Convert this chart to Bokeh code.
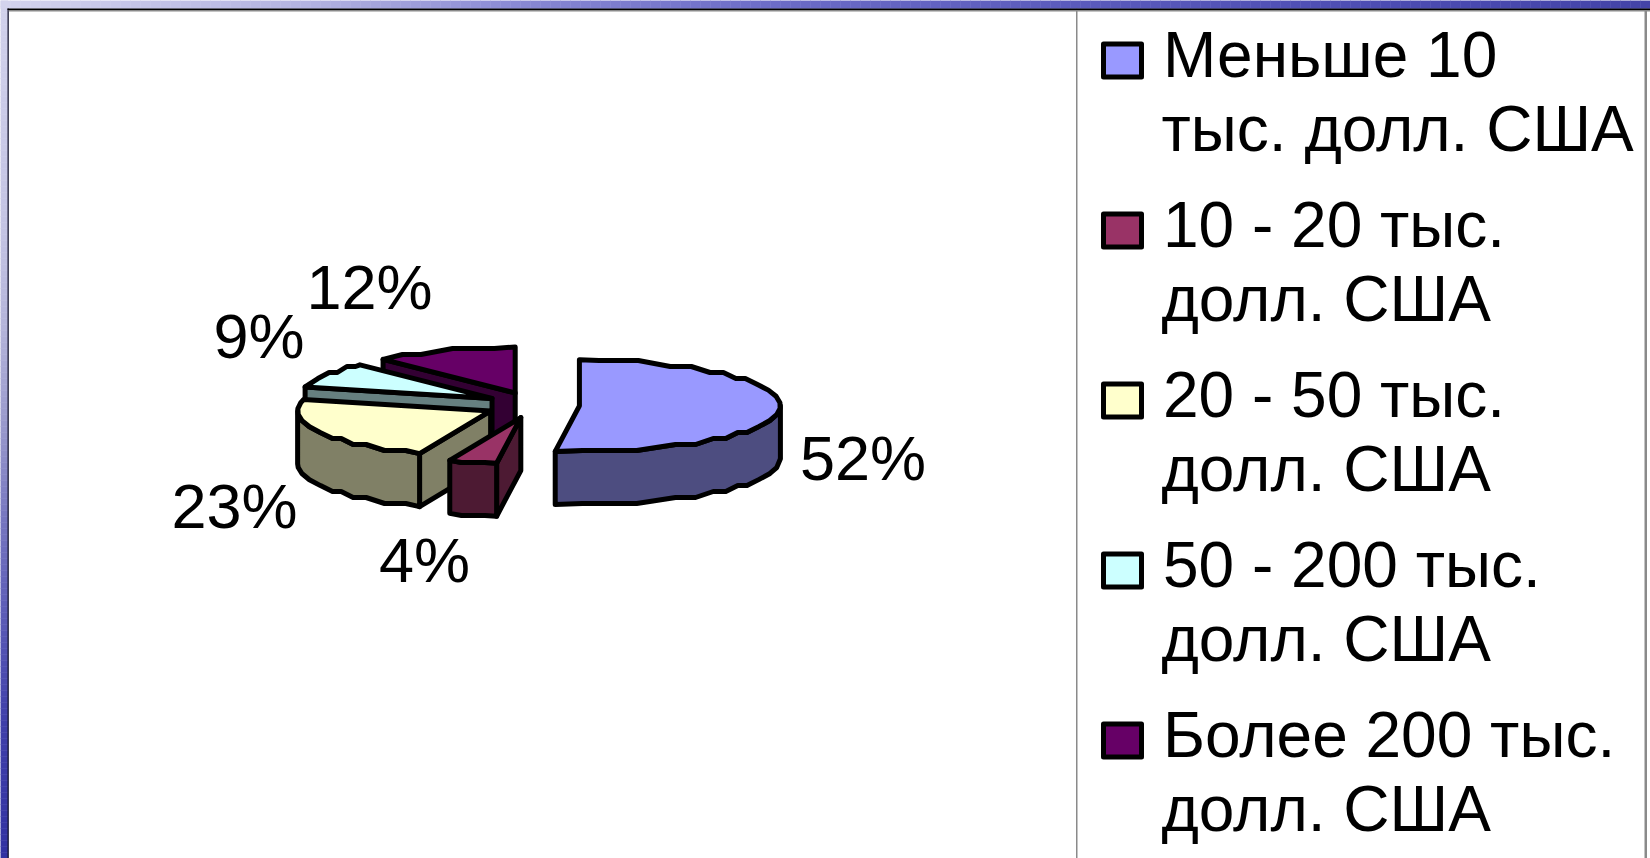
import math
import numpy as np
from bokeh.core.properties import value
from bokeh.embed import file_html
from bokeh.models import Range1d
from bokeh.plotting import figure
from bokeh.resources import INLINE

# ---- data ----
categories = ["Меньше 10 тыс. долл. США", "10 - 20 тыс. долл. США", "20 - 50 тыс. долл. США",
              "50 - 200 тыс. долл. США", "Более 200 тыс. долл. США"]
legend_lines = [["Меньше 10", "тыс. долл. США"], ["10 - 20 тыс.", "долл. США"], ["20 - 50 тыс.", "долл. США"],
                ["50 - 200 тыс.", "долл. США"], ["Более 200 тыс.", "долл. США"]]
shares = [52, 4, 23, 9, 12]
top_colors = ["#9999FF", "#993366", "#FFFFCC", "#CCFFFF", "#660066"]
side_colors = ["#4D4D80", "#4D1A33", "#808066", "#668080", "#330033"]

# ---- layout (pixels on the page) ----
W, H = 1650, 858
CX, CY = 532, 404.5
EX, EY = 47, 13
RX_RIGHT, RX_LEFT, RY = 201, 193, 46
DEPTH = 53
STEP_Y = 6
MIN_FLAT = 14
LINE = 5
TEXT_SHIFT = 0.375       # em between the requested and the drawn baseline
PCT_PX, LEG_PX = 63, 64
label_xy = [(862.5, 481), (424, 583), (234, 529), (258.5, 359), (369, 310)]
FONT = value("Liberation Sans")

p = figure(width=W, height=H, x_range=Range1d(0, W), y_range=Range1d(H, 0),
           toolbar_location=None, output_backend="svg", min_border=0,
           background_fill_color="white", border_fill_color="white", outline_line_color=None)
p.axis.visible = False
p.grid.visible = False


# ---- slide background round the chart ----
def bands(stops, colors, lo, hi, step):
    edges = np.arange(lo, hi + step, step)
    rgb = np.array([[int(c[i:i + 2], 16) for i in (1, 3, 5)] for c in colors])
    mids = (edges[:-1] + edges[1:]) / 2
    cols = ["#%02x%02x%02x" % tuple(int(np.interp(m, stops, rgb[:, k])) for k in range(3)) for m in mids]
    return edges[:-1], edges[1:], cols


s0, s1, sc = bands([0, 230, 330, 430, 520, 620, 720, 858],
                   ["#d2d2ec", "#c4c4e4", "#b4b4da", "#9898cc", "#7676c0", "#5a5ab6", "#4040aa", "#3232a2"], 0, H, 6)
p.quad(left=0, right=7.5, bottom=s1, top=s0, fill_color=sc, line_color=sc, line_width=0.5)
s0, s1, sc = bands([0, 300, 550, 800, 1100, 1400, 1650],
                   ["#d4d4ee", "#b4b4e2", "#8484d2", "#6a6ac6", "#5a5abc", "#4c4cb2", "#4444a8"], 0, W, 10)
p.quad(left=s0, right=s1, bottom=8, top=0, fill_color=sc, line_color=sc, line_width=0.5)
# frame of the chart and of its legend
p.quad(left=[7, 1075.5, 1644], right=[8.3, 1077, 1646.5], top=[8, 8, 8], bottom=[H, H, H],
       fill_color=["#15152e", "#8a8a8a", "#8a8a8a"], line_color=None)
p.quad(left=[7, 8.3], right=[W, W], top=[8, 9.4], bottom=[9.4, 11], fill_color=["black", "#8a8a8a"], line_color=None)


def arc(cx, cy, a, b):
    """Elliptical arc a..b (degrees clockwise from 12 o'clock), with the coarse stepped outline of the picture."""
    n = max(2, int(abs(b - a) * 2))
    pts = []
    for i in range(n + 1):
        t = math.radians(a + (b - a) * i / n)
        s = math.sin(t)
        pts.append((cx + (RX_RIGHT if s > 0 else RX_LEFT) * s, cy - RY * math.cos(t)))
    out = [pts[0]]
    i = 0
    while i < len(pts):
        q = round(pts[i][1] / STEP_Y)
        j = i
        while j + 1 < len(pts) and round(pts[j + 1][1] / STEP_Y) == q:
            j += 1
        if abs(pts[j][0] - pts[i][0]) >= MIN_FLAT:
            for f in (0.25, 0.75):
                out.append((pts[i][0] + (pts[j][0] - pts[i][0]) * f, q * STEP_Y))
        elif i > 0 and j < len(pts) - 1:
            out.append(pts[(i + j) // 2])
        i = j + 1
    out.append(pts[-1])
    return out


def poly(points, color):
    p.patch([q[0] for q in points], [q[1] for q in points], fill_color=color, line_color="black",
            line_width=LINE, line_join="round")


angle = 0
slices = []
for i, s in enumerate(shares):
    a, b = angle, angle + s * 3.6
    mid = math.radians((a + b) / 2)
    cx, cy = CX + EX * math.sin(mid), CY - EY * math.cos(mid)
    slices.append((i, a, b, cx, cy))
    angle = b

for i, a, b, cx, cy in reversed(slices):     # back slices first, the first (front) slice last
    # radial face of the slice start, when it looks to the viewer
    if math.sin(math.radians(a)) < -1e-6:
        edge_pt = arc(cx, cy, a, a + 0.5)[0]
        ex, ey = edge_pt
        poly([(cx, cy), (ex, ey), (ex, ey + DEPTH), (cx, cy + DEPTH)], side_colors[i])
    # outer wall for the front half of the ellipse
    lo, hi = max(a, 90), min(b, 270)
    if hi > lo:
        edge = arc(cx, cy, lo, hi)
        poly(edge + [(x, y + DEPTH) for x, y in reversed(edge)], side_colors[i])
    poly([(cx, cy)] + arc(cx, cy, a, b), top_colors[i])


def label(x, y, text, px, align="left"):
    p.text([x], [y - TEXT_SHIFT * px], text=[text], text_font=FONT, text_font_size=f"{px}px", text_color="black",
           text_baseline="alphabetic", text_align=align)


for s, (x, y) in zip(shares, label_xy):
    label(x, y, f"{s}%", PCT_PX, "center")

# ---- legend ----
for i, (lines, c) in enumerate(zip(legend_lines, top_colors)):
    yc = 60 + i * 170
    p.rect([1122], [yc], width=38, height=33, fill_color=c, line_color="black", line_width=LINE, line_join="round")
    label(1162.5, yc + 18, lines[0], LEG_PX)
    label(1161, yc + 92, lines[1], LEG_PX)

open("out.html", "w").write(file_html(p, INLINE))
